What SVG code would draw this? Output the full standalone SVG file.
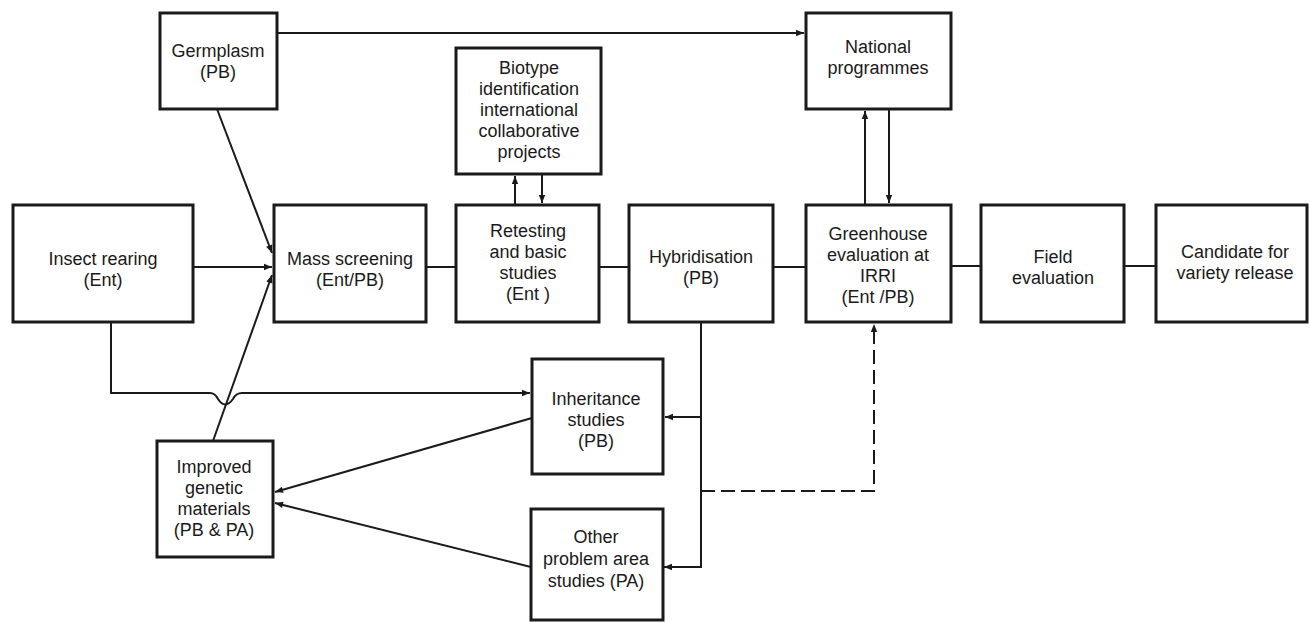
<svg xmlns="http://www.w3.org/2000/svg" width="1309" height="622" viewBox="0 0 1309 622">
<style>
.box{fill:#fff;stroke:#1a1a1a;stroke-width:3}
.ln{fill:none;stroke:#1a1a1a;stroke-width:2}
.dash{stroke-dasharray:14 6}
text{font-family:"Liberation Sans",Arial,sans-serif;font-size:18px;fill:#1a1a1a;text-anchor:middle}
</style>
<defs>
<marker id="ah" viewBox="0 0 10 10" refX="10" refY="5" markerWidth="10" markerHeight="8" markerUnits="userSpaceOnUse" orient="auto">
<path d="M0,1 L10,5 L0,9 Z" fill="#1a1a1a"/>
</marker>
</defs>
<rect width="1309" height="622" fill="#fff"/>
<g id="connectors">
<path class="ln" d="M277,33 H804" marker-end="url(#ah)"/>
<path class="ln" d="M217,109 L272,253" marker-end="url(#ah)"/>
<path class="ln" d="M193,267 H272" marker-end="url(#ah)"/>
<path class="ln" d="M213,441 L272,275" marker-end="url(#ah)"/>
<path class="ln" d="M426,267 H456"/>
<path class="ln" d="M599,267 H629"/>
<path class="ln" d="M773,267 H806"/>
<path class="ln" d="M951,266 H981"/>
<path class="ln" d="M1124,266 H1156"/>
<path class="ln" d="M515,205 V176" marker-end="url(#ah)"/>
<path class="ln" d="M542,174 V203" marker-end="url(#ah)"/>
<path class="ln" d="M865,205 V111" marker-end="url(#ah)"/>
<path class="ln" d="M889,109 V203" marker-end="url(#ah)"/>
<path class="ln" d="M111,322 V393 H210 Q215,393 218,399 Q225,410 233,399 Q236,393 242,393 H530" marker-end="url(#ah)"/>
<path class="ln" d="M701,322 V567 H664" marker-end="url(#ah)"/>
<path class="ln" d="M701,417 H665" marker-end="url(#ah)"/>
<path class="ln dash" d="M701,491 H874 V324" marker-end="url(#ah)"/>
<path class="ln" d="M532,418 L275,492" marker-end="url(#ah)"/>
<path class="ln" d="M531,567 L275,503" marker-end="url(#ah)"/>
</g>
<g id="germplasm"><rect class="box" x="160" y="13" width="117" height="96"/><text x="218" y="57">Germplasm</text><text x="218" y="78">(PB)</text></g>
<g id="insect"><rect class="box" x="13" y="205" width="180" height="117"/><text x="103" y="265">Insect rearing</text><text x="103" y="286">(Ent)</text></g>
<g id="mass"><rect class="box" x="274" y="205" width="152" height="117"/><text x="350" y="265">Mass screening</text><text x="350" y="286">(Ent/PB)</text></g>
<g id="biotype"><rect class="box" x="456" y="48" width="145" height="126"/><text x="529" y="74">Biotype</text><text x="529" y="95">identification</text><text x="529" y="116">international</text><text x="529" y="137">collaborative</text><text x="529" y="158">projects</text></g>
<g id="retesting"><rect class="box" x="456" y="205" width="143" height="117"/><text x="528" y="237">Retesting</text><text x="528" y="258">and basic</text><text x="528" y="279">studies</text><text x="528" y="300">(Ent )</text></g>
<g id="hybridisation"><rect class="box" x="629" y="205" width="144" height="117"/><text x="701" y="263">Hybridisation</text><text x="701" y="284">(PB)</text></g>
<g id="national"><rect class="box" x="806" y="13" width="145" height="96"/><text x="878" y="53">National</text><text x="878" y="74">programmes</text></g>
<g id="greenhouse"><rect class="box" x="806" y="205" width="145" height="117"/><text x="878" y="240">Greenhouse</text><text x="878" y="261">evaluation at</text><text x="878" y="282">IRRI</text><text x="878" y="303">(Ent /PB)</text></g>
<g id="field"><rect class="box" x="981" y="205" width="143" height="117"/><text x="1053" y="263">Field</text><text x="1053" y="284">evaluation</text></g>
<g id="candidate"><rect class="box" x="1156" y="205" width="151" height="117"/><text x="1235" y="258">Candidate for</text><text x="1235" y="279">variety release</text></g>
<g id="improved"><rect class="box" x="157" y="441" width="116" height="116"/><text x="214" y="473">Improved</text><text x="214" y="494">genetic</text><text x="214" y="515">materials</text><text x="214" y="536">(PB &amp; PA)</text></g>
<g id="inheritance"><rect class="box" x="532" y="359" width="131" height="115"/><text x="596" y="405">Inheritance</text><text x="596" y="426">studies</text><text x="596" y="447">(PB)</text></g>
<g id="other"><rect class="box" x="531" y="509" width="132" height="111"/><text x="596" y="543">Other</text><text x="596" y="565">problem area</text><text x="596" y="587">studies (PA)</text></g>
</svg>
